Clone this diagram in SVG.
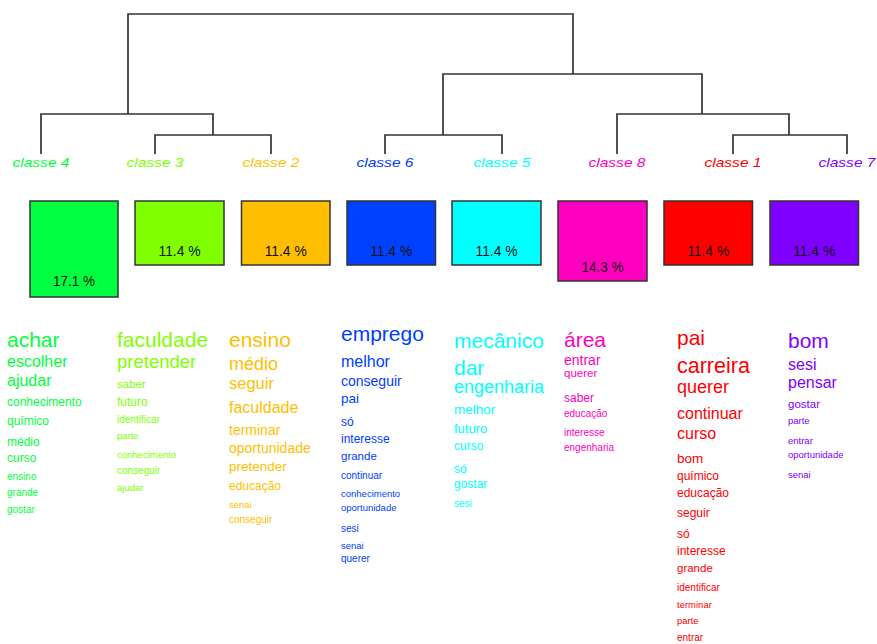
<svg xmlns="http://www.w3.org/2000/svg" width="877" height="644" viewBox="0 0 877 644">
<style>
text{font-family:"Liberation Sans",Arial,sans-serif}
.lbl{font-style:italic;font-size:13px;text-anchor:middle}
.box{stroke:#333;stroke-width:1.5}
.pct{font-size:15px;fill:#111;text-anchor:middle}
.edge{fill:none;stroke:#333;stroke-width:1.7}
.c1{fill:#FF0000}.c2{fill:#FFBF00}.c3{fill:#80FF00}.c4{fill:#00FF40}
.c5{fill:#00FFFF}.c6{fill:#0040FF}.c7{fill:#8000FF}.c8{fill:#FF00BF}
</style>
<rect width="877" height="644" fill="#fff"/>
<g id="connectors">
<path class="edge" d="M128,114 V14 H573 V74"/>
<path class="edge" d="M41,154 V114 H213 V135"/>
<path class="edge" d="M155,154 V135 H271 V154"/>
<path class="edge" d="M443,135 V74 H702 V114"/>
<path class="edge" d="M385,154 V135 H502 V154"/>
<path class="edge" d="M617,154 V114 H789 V135"/>
<path class="edge" d="M733,154 V135 H847 V154"/>
</g>
<g id="classe4">
<text class="lbl c4" x="41" y="167" textLength="57" lengthAdjust="spacingAndGlyphs">classe 4</text>
<rect class="box c4" x="30" y="201" width="88" height="96"/>
<text class="pct" x="74" y="286" textLength="42" lengthAdjust="spacingAndGlyphs">17.1 %</text>
<g class="c4">
<text x="7" y="347" font-size="21">achar</text>
<text x="7" y="367" font-size="16">escolher</text>
<text x="7" y="386" font-size="16">ajudar</text>
<text x="7" y="406" font-size="12">conhecimento</text>
<text x="7" y="425" font-size="12">químico</text>
<text x="7" y="446" font-size="12">médio</text>
<text x="7" y="462" font-size="12">curso</text>
<text x="7" y="480" font-size="10">ensino</text>
<text x="7" y="496" font-size="10">grande</text>
<text x="7" y="513" font-size="10">gostar</text>
</g>
</g>
<g id="classe3">
<text class="lbl c3" x="155" y="167" textLength="57" lengthAdjust="spacingAndGlyphs">classe 3</text>
<rect class="box c3" x="135" y="201" width="89" height="64"/>
<text class="pct" x="179.5" y="256" textLength="42" lengthAdjust="spacingAndGlyphs">11.4 %</text>
<g class="c3">
<text x="117" y="347" font-size="21">faculdade</text>
<text x="117" y="368" font-size="18.5">pretender</text>
<text x="117" y="388" font-size="11.5">saber</text>
<text x="117" y="406" font-size="12">futuro</text>
<text x="117" y="423" font-size="10">identificar</text>
<text x="117" y="439" font-size="9.5">parte</text>
<text x="117" y="458" font-size="9.5">conhecimento</text>
<text x="117" y="474" font-size="10">conseguir</text>
<text x="117" y="491" font-size="9.5">ajudar</text>
</g>
</g>
<g id="classe2">
<text class="lbl c2" x="271" y="167" textLength="57" lengthAdjust="spacingAndGlyphs">classe 2</text>
<rect class="box c2" x="241.5" y="201" width="88.5" height="64"/>
<text class="pct" x="285.7" y="256" textLength="42" lengthAdjust="spacingAndGlyphs">11.4 %</text>
<g class="c2">
<text x="229" y="347" font-size="21">ensino</text>
<text x="229" y="370" font-size="18">médio</text>
<text x="229" y="389" font-size="16.5">seguir</text>
<text x="229" y="413" font-size="16">faculdade</text>
<text x="229" y="435" font-size="14">terminar</text>
<text x="229" y="453" font-size="14">oportunidade</text>
<text x="229" y="471" font-size="13.5">pretender</text>
<text x="229" y="490" font-size="12">educação</text>
<text x="229" y="508" font-size="9.5">senai</text>
<text x="229" y="523" font-size="10">conseguir</text>
</g>
</g>
<g id="classe6">
<text class="lbl c6" x="385" y="167" textLength="57" lengthAdjust="spacingAndGlyphs">classe 6</text>
<rect class="box c6" x="347" y="201" width="88.5" height="64"/>
<text class="pct" x="391.2" y="256" textLength="42" lengthAdjust="spacingAndGlyphs">11.4 %</text>
<g class="c6">
<text x="341" y="341" font-size="21">emprego</text>
<text x="341" y="367" font-size="16">melhor</text>
<text x="341" y="386" font-size="14">conseguir</text>
<text x="341" y="403" font-size="13.5">pai</text>
<text x="341" y="426" font-size="12">só</text>
<text x="341" y="443" font-size="12">interesse</text>
<text x="341" y="460" font-size="11.5">grande</text>
<text x="341" y="479" font-size="10">continuar</text>
<text x="341" y="497" font-size="9.5">conhecimento</text>
<text x="341" y="511" font-size="9.5">oportunidade</text>
<text x="341" y="532" font-size="10">sesi</text>
<text x="341" y="549" font-size="9.5">senai</text>
<text x="341" y="562" font-size="10">querer</text>
</g>
</g>
<g id="classe5">
<text class="lbl c5" x="502" y="167" textLength="57" lengthAdjust="spacingAndGlyphs">classe 5</text>
<rect class="box c5" x="452" y="201" width="89" height="64"/>
<text class="pct" x="496.5" y="256" textLength="42" lengthAdjust="spacingAndGlyphs">11.4 %</text>
<g class="c5">
<text x="454" y="348" font-size="21">mecânico</text>
<text x="454" y="375" font-size="21">dar</text>
<text x="454" y="393" font-size="18">engenharia</text>
<text x="454" y="414" font-size="13.5">melhor</text>
<text x="454" y="433" font-size="13">futuro</text>
<text x="454" y="450" font-size="12">curso</text>
<text x="454" y="473" font-size="12">só</text>
<text x="454" y="488" font-size="12">gostar</text>
<text x="454" y="507" font-size="10">sesi</text>
</g>
</g>
<g id="classe8">
<text class="lbl c8" x="617" y="167" textLength="57" lengthAdjust="spacingAndGlyphs">classe 8</text>
<rect class="box c8" x="558" y="201" width="89" height="80"/>
<text class="pct" x="602.5" y="272" textLength="42" lengthAdjust="spacingAndGlyphs">14.3 %</text>
<g class="c8">
<text x="564" y="347" font-size="21">área</text>
<text x="564" y="365" font-size="14">entrar</text>
<text x="564" y="377" font-size="11.5">querer</text>
<text x="564" y="402" font-size="12">saber</text>
<text x="564" y="417" font-size="10">educação</text>
<text x="564" y="436" font-size="10">interesse</text>
<text x="564" y="451" font-size="10">engenharia</text>
</g>
</g>
<g id="classe1">
<text class="lbl c1" x="733" y="167" textLength="57" lengthAdjust="spacingAndGlyphs">classe 1</text>
<rect class="box c1" x="664" y="201" width="88.5" height="64"/>
<text class="pct" x="708.2" y="256" textLength="42" lengthAdjust="spacingAndGlyphs">11.4 %</text>
<g class="c1">
<text x="677" y="345" font-size="21">pai</text>
<text x="677" y="373" font-size="21.5">carreira</text>
<text x="677" y="393" font-size="18">querer</text>
<text x="677" y="419" font-size="16">continuar</text>
<text x="677" y="439" font-size="16">curso</text>
<text x="677" y="463" font-size="13.5">bom</text>
<text x="677" y="480" font-size="12">químico</text>
<text x="677" y="497" font-size="12">educação</text>
<text x="677" y="517" font-size="12">seguir</text>
<text x="677" y="538" font-size="12">só</text>
<text x="677" y="555" font-size="12">interesse</text>
<text x="677" y="572" font-size="11.5">grande</text>
<text x="677" y="591" font-size="10">identificar</text>
<text x="677" y="608" font-size="9.5">terminar</text>
<text x="677" y="624" font-size="9.5">parte</text>
<text x="677" y="641" font-size="10">entrar</text>
</g>
</g>
<g id="classe7">
<text class="lbl c7" x="847" y="167" textLength="57" lengthAdjust="spacingAndGlyphs">classe 7</text>
<rect class="box c7" x="770" y="201" width="88.5" height="64"/>
<text class="pct" x="814.2" y="256" textLength="42" lengthAdjust="spacingAndGlyphs">11.4 %</text>
<g class="c7">
<text x="788" y="348" font-size="21">bom</text>
<text x="788" y="370" font-size="16">sesi</text>
<text x="788" y="388" font-size="16">pensar</text>
<text x="788" y="408" font-size="11.5">gostar</text>
<text x="788" y="424" font-size="9.5">parte</text>
<text x="788" y="444" font-size="9.5">entrar</text>
<text x="788" y="458" font-size="9.5">oportunidade</text>
<text x="788" y="478" font-size="9.5">senai</text>
</g>
</g>
</svg>
